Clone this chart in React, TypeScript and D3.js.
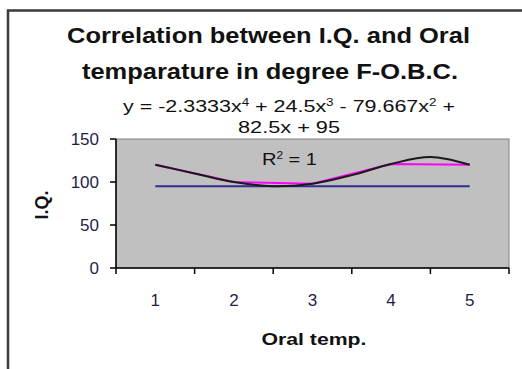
import React from "react";
import * as d3 from "d3";

// ---- data ----
const categories = ["1", "2", "3", "4", "5"];
const iqValues = [120, 100, 98, 121, 120]; // magenta series
const baselineValues = [95, 95, 95, 95, 95]; // blue series
// trendline (black) at half steps
const trendX = [1, 1.5, 2, 2.5, 3, 3.5, 4, 4.5, 5];
const trendY = [120, 110, 100, 95, 98, 108, 121, 129, 120];
const yTicks = [0, 50, 100, 150];

const W = 522;
const H = 369;
const FONT = "'Liberation Sans', Arial, Helvetica, sans-serif";

export default function App() {
  const left = 116, right = 509, top = 139, bottom = 268;
  const x = d3.scaleLinear().domain([0.5, 5.5]).range([left, right]);
  const y = d3.scaleLinear().domain([0, 150]).range([bottom, top]);

  const lin = d3
    .line<number>()
    .x((_, i) => x(i + 1))
    .y((d) => y(d));
  const trend = d3
    .line<number>()
    .x((_, i) => x(trendX[i]))
    .y((d) => y(d))
    .curve(d3.curveCatmullRom.alpha(0.5));

  const boundaries = d3.range(0, categories.length + 1).map((i) => i + 0.5);

  return (
    <svg
      width={W}
      height={H}
      style={{ position: "absolute", left: 0, top: 0, background: "#fff" }}
      fontFamily={FONT}
    >
      <rect x={0} y={0} width={W} height={H} fill="#fff" />
      {/* outer frame */}
      <rect x={8} y={10.5} width={540} height={400} fill="#fff" stroke="#3a3a3a" strokeWidth={2.5} />

      {/* title */}
      <text x={268.5} y={43} textAnchor="middle" fontWeight="bold" fontSize={22.5} textLength={403} lengthAdjust="spacingAndGlyphs" fill="#111">
        Correlation between I.Q. and Oral
      </text>
      <text x={270} y={79} textAnchor="middle" fontWeight="bold" fontSize={22.5} textLength={376} lengthAdjust="spacingAndGlyphs" fill="#111">
        temparature in degree F-O.B.C.
      </text>

      {/* plot area */}
      <rect x={left} y={top} width={right - left} height={bottom - top} fill="#c0c0c0" stroke="#808080" strokeWidth={1} />

      {/* series */}
      <path d={lin(baselineValues) || ""} fill="none" stroke="#2e2e90" strokeWidth={2} />
      <path d={lin(iqValues) || ""} fill="none" stroke="#ff00ff" strokeWidth={2} />
      <path d={trend(trendY) || ""} fill="none" stroke="#1a1a1a" strokeWidth={2} />

      {/* equation + R2 */}
      <text x={289} y={112} textAnchor="middle" fontSize={16} textLength={332} lengthAdjust="spacingAndGlyphs" fill="#111">
        y = -2.3333x<tspan dy={-6} fontSize={10}>4</tspan>
        <tspan dy={6}> + 24.5x</tspan>
        <tspan dy={-6} fontSize={10}>3</tspan>
        <tspan dy={6}> - 79.667x</tspan>
        <tspan dy={-6} fontSize={10}>2</tspan>
        <tspan dy={6}> +</tspan>
      </text>
      <text x={289} y={133} textAnchor="middle" fontSize={16} textLength={102} lengthAdjust="spacingAndGlyphs" fill="#111">
        82.5x + 95
      </text>
      <text x={289.5} y={165} textAnchor="middle" fontSize={17} textLength={55} lengthAdjust="spacingAndGlyphs" fill="#111">
        R<tspan dy={-6} fontSize={10}>2</tspan>
        <tspan dy={6}> = 1</tspan>
      </text>

      {/* axes */}
      <line x1={left} x2={left} y1={top} y2={bottom} stroke="#000" strokeWidth={1.5} />
      <line x1={left} x2={right} y1={bottom} y2={bottom} stroke="#000" strokeWidth={1.5} />
      {yTicks.map((t) => (
        <g key={t}>
          <line x1={left - 6} x2={left} y1={y(t)} y2={y(t)} stroke="#000" strokeWidth={1.5} />
          <text x={99} y={y(t) + 6} textAnchor="end" fontSize={17} fill="#1e1e4a">
            {t}
          </text>
        </g>
      ))}
      {boundaries.map((b) => (
        <line key={b} x1={x(b)} x2={x(b)} y1={bottom} y2={bottom + 6} stroke="#000" strokeWidth={1.5} />
      ))}
      {categories.map((c, i) => (
        <text key={c} x={x(i + 1)} y={306} textAnchor="middle" fontSize={17} fill="#1e1e4a">
          {c}
        </text>
      ))}

      {/* axis titles */}
      <text x={314} y={345} textAnchor="middle" fontWeight="bold" fontSize={17} textLength={105} lengthAdjust="spacingAndGlyphs" fill="#111">
        Oral temp.
      </text>
      <text transform="translate(48,205) rotate(-90)" textAnchor="middle" fontWeight="bold" fontSize={18} fill="#111">
        I.Q.
      </text>
    </svg>
  );
}
